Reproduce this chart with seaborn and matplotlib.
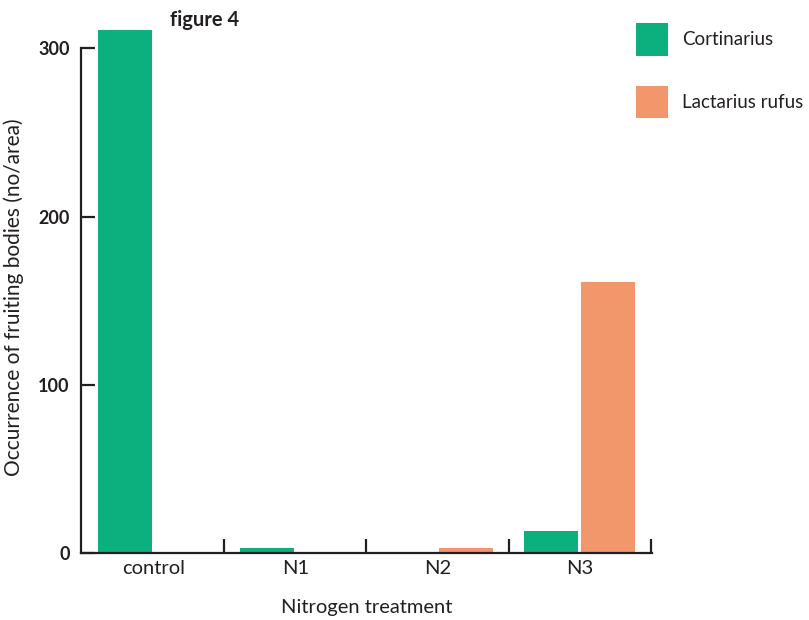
import pandas as pd
import seaborn as sns
import matplotlib.pyplot as plt
from matplotlib.patches import Patch

treatments = ["control", "N1", "N2", "N3"]
cortinarius = [311, 3, 0, 13]
lactarius = [0, 0, 3, 161]
species = ["Cortinarius", "Lactarius rufus"]
colours = ["#0bb07e", "#f2966b"]

df = pd.DataFrame({
    "treatment": treatments * 2,
    "count": cortinarius + lactarius,
    "species": [species[0]] * 4 + [species[1]] * 4,
})

sns.set_style("white")
plt.rcParams["font.family"] = ["Lato", "DejaVu Sans"]
ink = "#231f20"

fig = plt.figure(figsize=(8.09, 6.2), dpi=100)
ax = fig.add_axes([0.100, 0.108, 0.706, 0.860])

sns.barplot(data=df, x="treatment", y="count", hue="species", order=treatments,
            hue_order=species, palette=colours, width=0.8, gap=0.06,
            linewidth=0, saturation=1, legend=False, ax=ax)

ax.set_xlim(-0.51, 3.51)
ax.set_ylim(0, 317)
ax.set_yticks([0, 100, 200, 300])
ax.spines[["top", "right"]].set_visible(False)
ax.spines["left"].set_bounds(0, 300)
for s in ["left", "bottom"]:
    ax.spines[s].set_color(ink)
    ax.spines[s].set_linewidth(1.6)

# separator ticks between groups, pointing up
ax.set_xticks([0.5, 1.5, 2.5, 3.5], minor=True)
ax.tick_params(axis="x", which="minor", direction="in", length=10, width=1.6,
               color=ink, bottom=True)
ax.tick_params(axis="x", which="major", length=0, labelsize=14.5, pad=5,
               labelcolor=ink)
ax.tick_params(axis="y", direction="in", length=10, width=1.6, color=ink,
               labelsize=13, pad=8, labelcolor=ink, left=True)
for t in ax.get_yticklabels():
    t.set_fontweight("bold")

ax.set_xlabel("Nitrogen treatment", fontsize=14.5, labelpad=16, color=ink)
ax.set_ylabel("Occurrence of fruiting bodies (no/area)", fontsize=15,
              color=ink)
ax.yaxis.set_label_coords(-0.1, 0.48)
fig.text(0.210, 0.967, "figure 4", fontsize=14.5, fontweight="bold",
         color=ink, ha="left", va="center")

handles = [Patch(facecolor=c, edgecolor="none") for c in colours]
fig.legend(handles, species, loc="upper left", bbox_to_anchor=(0.765, 0.99),
           frameon=False, fontsize=13.5, handlelength=1.7, handleheight=2.3,
           labelspacing=1.6, handletextpad=0.75, labelcolor=ink)

plt.savefig("out.png", dpi=100)
